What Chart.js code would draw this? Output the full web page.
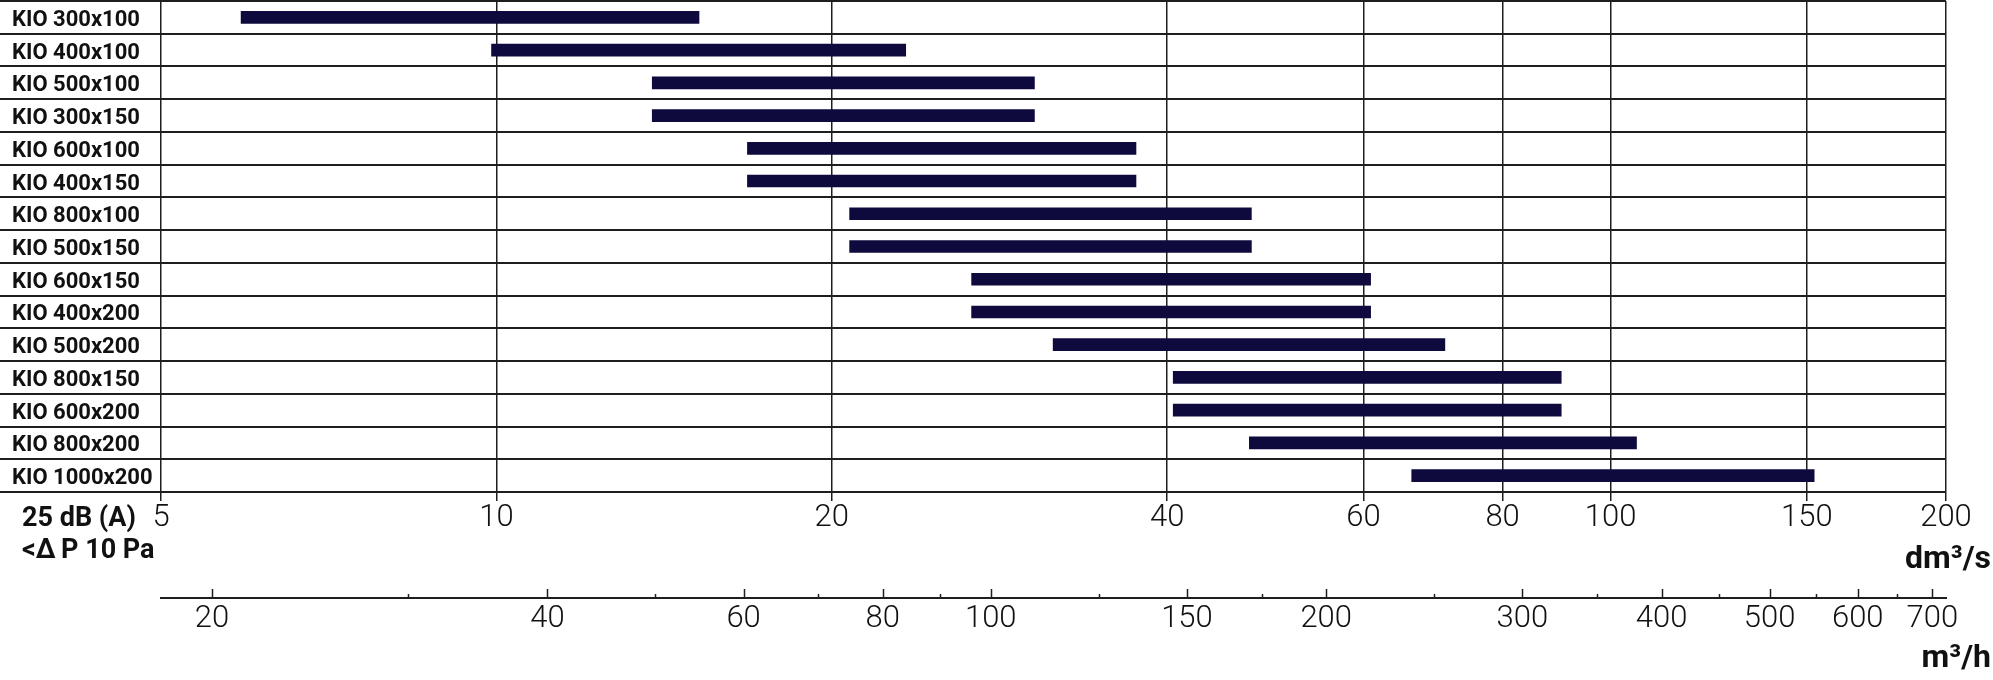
<!DOCTYPE html>
<html>
<head>
<meta charset="utf-8">
<script src="https://cdn.jsdelivr.net/npm/chart.js@4.4.1/dist/chart.umd.min.js"></script>
<style>
  html, body { margin: 0; padding: 0; background: #fff; }
  #wrap { width: 1993px; height: 680px; position: relative; }
</style>
</head>
<body>
<div id="wrap"><canvas id="c"></canvas></div>
<script>
// ---- data ----
const categories = ['KIO 300x100','KIO 400x100','KIO 500x100','KIO 300x150','KIO 600x100','KIO 400x150','KIO 800x100','KIO 500x150','KIO 600x150','KIO 400x200','KIO 500x200','KIO 800x150','KIO 600x200','KIO 800x200','KIO 1000x200'];
const flowMin = [5.9, 9.9, 13.8, 13.8, 16.8, 16.8, 20.75, 20.75, 26.7, 26.7, 31.6, 40.5, 40.5, 47.4, 66.3];
const flowMax = [15.2, 23.3, 30.4, 30.4, 37.5, 37.5, 47.6, 47.6, 60.9, 60.9, 71.0, 90.3, 90.3, 105.5, 152.3];
const dm3sTicks = [5, 10, 20, 40, 60, 80, 100, 150, 200];
const m3hMajorTicks = [20, 40, 60, 80, 100, 150, 200, 300, 400, 500, 600, 700];
const m3hMinorTicks = [30, 50, 70, 90, 125, 175, 250, 350, 450, 550, 650];
const m3hPerDm3s = 3.6;
const unitDm3s = 'dm\u00B3/s';
const unitM3h = 'm\u00B3/h';
const noteLines = ['25 dB (A)', '<\u0394\u2009P 10 Pa'];

const numFont = { family: 'Roboto', size: 31, weight: 300 };
const ink = '#111111';
const lineInk = '#1e1e1e';

const extras = {
  id: 'extras',
  afterDraw(chart) {
    const ctx = chart.ctx;
    const x2 = chart.scales.x2;
    const ca = chart.chartArea;
    ctx.save();
    ctx.strokeStyle = lineInk;
    ctx.lineWidth = 1.5;
    const y0 = x2.top;
    const tick = (v, len) => {
      const px = Math.round(x2.getPixelForValue(v)) + 0.5;
      ctx.beginPath();
      ctx.moveTo(px, y0);
      ctx.lineTo(px, y0 - len);
      ctx.stroke();
    };
    m3hMajorTicks.forEach(v => tick(v, 9));
    m3hMinorTicks.forEach(v => tick(v, 4));

    ctx.fillStyle = ink;
    ctx.textBaseline = 'alphabetic';
    ctx.textAlign = 'left';
    ctx.font = "bold 27px Roboto";
    ctx.fillText(noteLines[0], 22, ca.bottom + 34);
    ctx.fillText(noteLines[1], 22, ca.bottom + 66);

    ctx.textAlign = 'right';
    ctx.font = "bold 32px Roboto";
    ctx.fillText(unitDm3s, 1991, ca.bottom + 76);
    ctx.fillText(unitM3h, 1991, 667);
    ctx.restore();
  }
};

new Chart(document.getElementById('c'), {
  type: 'bar',
  data: {
    labels: categories,
    datasets: [{
      data: categories.map((c, i) => [flowMin[i], flowMax[i]]),
      backgroundColor: '#0e0a3d',
      borderWidth: 0,
      barThickness: 12
    }]
  },
  plugins: [extras],
  options: {
    indexAxis: 'y',
    responsive: true,
    maintainAspectRatio: false,
    animation: false,
    layout: { padding: { left: 12, right: 47, top: 1, bottom: 0 } },
    plugins: { legend: { display: false }, tooltip: { enabled: false } },
    scales: {
      y: {
        type: 'category',
        position: 'left',
        afterFit: s => { s.width = 149; s.paddingTop = 0; s.paddingBottom = 0; },
        grid: { offset: true, color: lineInk, lineWidth: 2, drawTicks: true, tickLength: 161, tickColor: lineInk },
        border: { display: false },
        ticks: {
          crossAlign: 'far',
          autoSkip: false,
          labelOffset: 3,
          color: ink,
          font: { family: 'Roboto', size: 22, weight: 'bold' }
        }
      },
      x: {
        type: 'logarithmic',
        position: 'bottom',
        min: 5,
        max: 200,
        afterBuildTicks: s => { s.ticks = dm3sTicks.map(v => ({ value: v })); },
        afterFit: s => { s.height = 106; },
        grid: { color: lineInk, lineWidth: 1.5, drawTicks: true, tickLength: 9, tickColor: lineInk },
        border: { display: false },
        ticks: {
          autoSkip: false,
          maxRotation: 0,
          padding: -1,
          color: ink,
          font: numFont,
          callback: v => String(v)
        }
      },
      x2: {
        type: 'logarithmic',
        position: 'bottom',
        min: 5 * m3hPerDm3s,
        max: 200 * m3hPerDm3s,
        afterBuildTicks: s => { s.ticks = m3hMajorTicks.map(v => ({ value: v })); },
        afterFit: s => { s.height = 82; },
        grid: { drawOnChartArea: false, drawTicks: false },
        border: { display: true, color: lineInk, width: 2 },
        ticks: {
          autoSkip: false,
          maxRotation: 0,
          padding: 3,
          color: ink,
          font: numFont,
          callback: v => String(v)
        }
      }
    }
  }
});
</script>
</body>
</html>
